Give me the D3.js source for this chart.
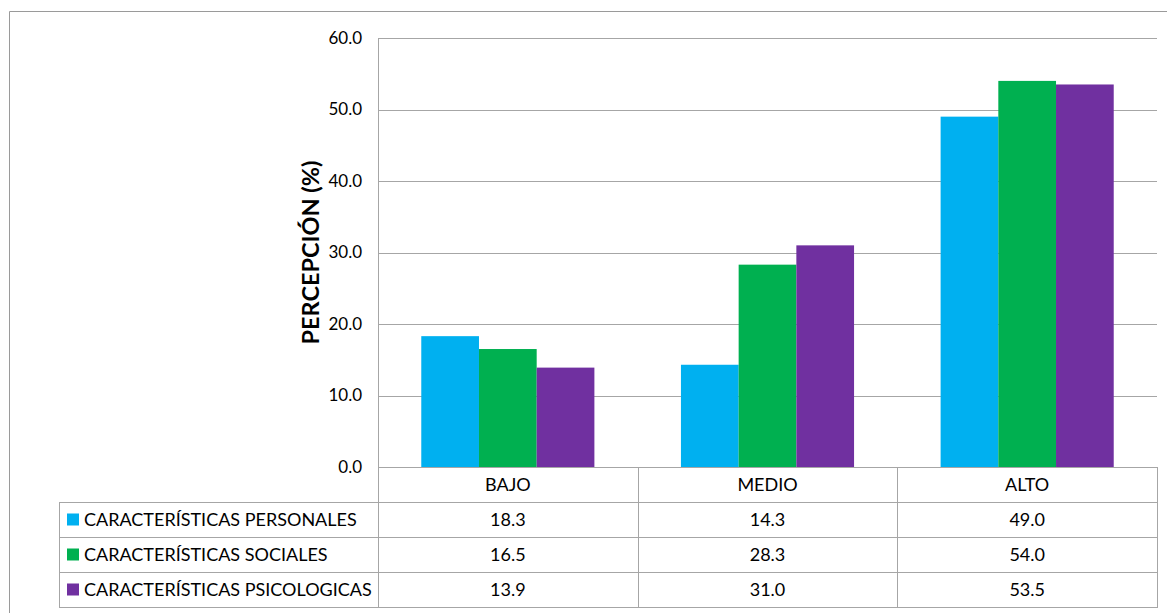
<!DOCTYPE html>
<html>
<head>
<meta charset="utf-8">
<script src="https://cdn.jsdelivr.net/npm/d3@7"></script>
<style>
  html, body { margin: 0; padding: 0; background: #fff; }
  svg { display: block; font-family: Lato, "Open Sans", sans-serif; }
</style>
</head>
<body>
<svg id="chart" width="1167" height="613"></svg>
<script>
// Perception levels and series values (%)
const categories = ["BAJO", "MEDIO", "ALTO"];
const seriesNames = [
  "CARACTERÍSTICAS PERSONALES",
  "CARACTERÍSTICAS SOCIALES",
  "CARACTERÍSTICAS PSICOLOGICAS"
];
const personales = [18.3, 14.3, 49.0];
const sociales = [16.5, 28.3, 54.0];
const psicologicas = [13.9, 31.0, 53.5];
const yTicks = [0, 10, 20, 30, 40, 50, 60];
const colors = ["#00B0F0", "#00B050", "#7030A0"];

const series = [personales, sociales, psicologicas].map((values, i) => ({
  name: seriesNames[i], color: colors[i], values
}));

const svg = d3.select("#chart");
const plot = { left: 378, right: 1157, top: 38, bottom: 467 };
const tableLeft = 59;
const rowH = 35;
const gridColor = "#a6a6a6";
const tableFont = 18;

// outer chart frame
svg.append("path")
  .attr("d", "M9.5,613 V11.5 H1167")
  .attr("fill", "none").attr("stroke", "#9a9a9a").attr("stroke-width", 1);

const x = d3.scaleBand().domain(categories).range([plot.left, plot.right]);
const xInner = d3.scaleBand().domain(d3.range(series.length))
  .range([0, x.bandwidth()]).paddingOuter(0.75).paddingInner(0);
const y = d3.scaleLinear().domain([0, 60]).range([plot.bottom, plot.top]);

// horizontal gridlines + value axis labels
const yAxis = d3.axisLeft(y).tickValues(yTicks).tickFormat(d3.format(".1f"))
  .tickSize(-(plot.right - plot.left)).tickPadding(16);
const gy = svg.append("g").attr("transform", `translate(${plot.left},0)`).call(yAxis);
gy.select(".domain").remove();
gy.selectAll(".tick line").attr("stroke", gridColor).attr("stroke-width", 1)
  .attr("shape-rendering", "crispEdges");
gy.selectAll(".tick text").attr("font-size", 17).attr("fill", "#000")
  .attr("font-family", "Lato, sans-serif");

// vertical axis line
svg.append("line")
  .attr("x1", plot.left + 0.5).attr("x2", plot.left + 0.5)
  .attr("y1", plot.top).attr("y2", plot.bottom)
  .attr("stroke", gridColor);

// bars
const groups = svg.append("g").selectAll("g").data(series).join("g")
  .attr("fill", d => d.color);
groups.each(function(s, si) {
  d3.select(this).selectAll("rect").data(s.values).join("rect")
    .attr("x", (v, ci) => x(categories[ci]) + xInner(si))
    .attr("width", xInner.bandwidth())
    .attr("y", v => y(v))
    .attr("height", v => y(0) - y(v));
});

// axis title
svg.append("text")
  .attr("transform", `translate(319,${(plot.top + plot.bottom) / 2}) rotate(-90)`)
  .attr("text-anchor", "middle")
  .attr("font-size", 23.5).attr("font-weight", "bold")
  .attr("font-family", "Lato, sans-serif")
  .text("PERCEPCIÓN (%)");

// data table
const table = svg.append("g").attr("stroke", gridColor).attr("fill", "none")
  .attr("shape-rendering", "crispEdges");
const tableBottom = plot.bottom + rowH * 4;
for (let r = 0; r <= 3; r++) {
  const yy = plot.bottom + rowH * (r + 1) + 0.5;
  table.append("line").attr("x1", tableLeft).attr("x2", plot.right)
    .attr("y1", yy).attr("y2", yy);
}
table.append("line").attr("x1", plot.left).attr("x2", plot.right)
  .attr("y1", plot.bottom + 0.5).attr("y2", plot.bottom + 0.5);
categories.forEach(c => {
  table.append("line").attr("x1", x(c) + 0.5).attr("x2", x(c) + 0.5)
    .attr("y1", plot.bottom).attr("y2", tableBottom);
});
table.append("line").attr("x1", plot.right + 0.5).attr("x2", plot.right + 0.5)
  .attr("y1", plot.bottom).attr("y2", tableBottom + 1);
table.append("line").attr("x1", tableLeft + 0.5).attr("x2", tableLeft + 0.5)
  .attr("y1", plot.bottom + rowH).attr("y2", tableBottom + 1);

// category header labels
svg.append("g").selectAll("text").data(categories).join("text")
  .attr("x", d => x(d) + x.bandwidth() / 2)
  .attr("y", plot.bottom + rowH / 2)
  .attr("dy", "0.35em").attr("text-anchor", "middle")
  .attr("font-size", tableFont).text(d => d);

// legend rows with values
const rows = svg.append("g").selectAll("g").data(series).join("g")
  .attr("transform", (d, i) => `translate(0,${plot.bottom + rowH * (i + 1)})`);
rows.append("rect")
  .attr("x", 67).attr("y", rowH / 2 - 6).attr("width", 12).attr("height", 12)
  .attr("fill", d => d.color);
rows.append("text")
  .attr("x", 84).attr("y", rowH / 2).attr("dy", "0.35em")
  .attr("font-size", tableFont).text(d => d.name);
rows.each(function(s) {
  d3.select(this).selectAll("text.val").data(s.values).join("text")
    .attr("class", "val")
    .attr("x", (v, ci) => x(categories[ci]) + x.bandwidth() / 2)
    .attr("y", rowH / 2).attr("dy", "0.35em").attr("text-anchor", "middle")
    .attr("font-size", tableFont).text(v => d3.format(".1f")(v));
});
</script>
</body>
</html>
